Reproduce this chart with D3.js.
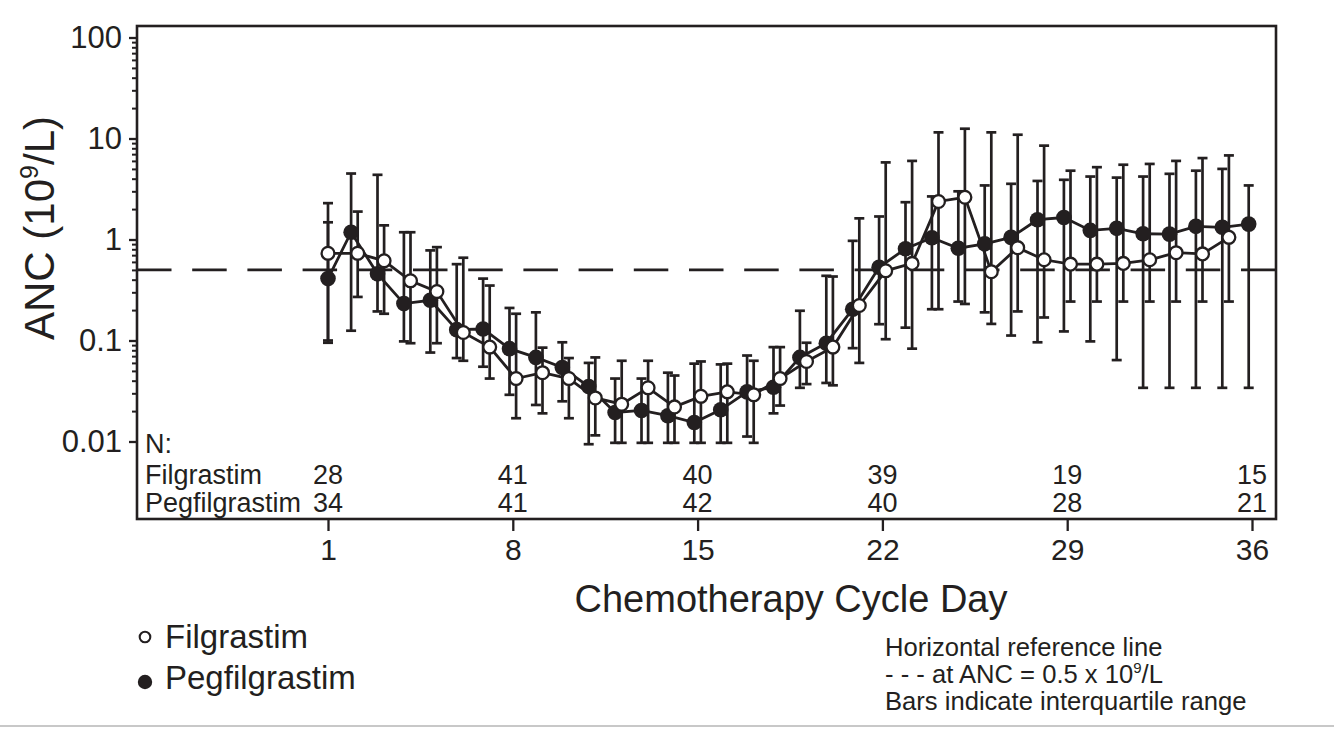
<!DOCTYPE html>
<html><head><meta charset="utf-8">
<script src="https://cdn.jsdelivr.net/npm/d3@7"></script>
<style>
body{margin:0;background:#fff}
svg{display:block}
text{font-family:"Liberation Sans",Arial,Helvetica,sans-serif;fill:#231f20}
</style>
</head><body>
<svg id="chart" width="1334" height="729"></svg>
<script>
// ---------- data ----------
const pegDays   = [1,2,3,4,5,6,7,8,9,10,11,12,13,14,15,16,17,18,19,20,21,22,23,24,25,26,27,28,29,30,31,32,33,34,35,36];
const pegMedian = [0.41,1.18,0.457,0.232,0.25,0.128,0.13,0.083,0.068,0.054,0.035,0.0194,0.0203,0.018,0.0154,0.0206,0.031,0.0345,0.068,0.094,0.204,0.53,0.81,1.04,0.82,0.906,1.05,1.57,1.65,1.23,1.29,1.14,1.13,1.35,1.32,1.42];
const pegQ1     = [0.095,0.125,0.194,0.098,0.076,0.067,0.055,0.029,0.023,0.025,0.0094,0.0097,0.0097,0.0097,0.0097,0.0097,0.0112,0.019,0.034,0.038,0.084,0.145,0.134,0.204,0.243,0.19,0.112,0.096,0.123,0.098,0.064,0.034,0.034,0.034,0.034,0.034];
const pegQ3     = [2.29,4.5,4.37,1.18,0.78,0.57,0.41,0.21,0.19,0.096,0.06,0.042,0.042,0.048,0.059,0.058,0.071,0.086,0.197,0.437,0.97,1.69,2.34,2.67,3.0,3.43,3.56,3.8,3.9,4.2,4.1,4.2,4.47,4.8,5.0,3.43];

const filDays   = [1,2,3,4,5,6,7,8,9,10,11,12,13,14,15,16,17,18,19,20,21,22,23,24,25,26,27,28,29,30,31,32,33,34,35];
const filMedian = [0.73,0.73,0.615,0.39,0.305,0.12,0.086,0.042,0.048,0.042,0.027,0.0234,0.034,0.022,0.028,0.031,0.029,0.042,0.062,0.086,0.222,0.49,0.58,2.38,2.62,0.48,0.83,0.63,0.57,0.57,0.58,0.63,0.74,0.72,1.05];
const filQ1     = [0.1,0.27,0.184,0.094,0.094,0.063,0.042,0.017,0.019,0.017,0.0115,0.0097,0.0097,0.0097,0.0097,0.0097,0.0097,0.0227,0.037,0.036,0.06,0.103,0.083,0.204,0.23,0.146,0.194,0.169,0.243,0.243,0.243,0.243,0.243,0.243,0.243];
const filQ3     = [1.48,1.89,1.38,1.18,0.84,0.66,0.35,0.184,0.085,0.067,0.068,0.063,0.063,0.045,0.062,0.059,0.063,0.086,0.095,0.43,1.62,5.8,6.0,11.5,12.5,11.5,10.9,8.5,4.8,5.2,5.5,5.6,6.0,6.4,6.8];

const xTicks = [1,8,15,22,29,36];
const yTicks = [0.01,0.1,1,10,100];
const yTickLabels = ["0.01","0.1","1","10","100"];
const nDays = [1,8,15,22,29,36];
const nFilgrastim = [28,41,40,39,19,15];
const nPegfilgrastim = [34,41,42,40,28,21];
const refValue = 0.5;

// ---------- layout / style ----------
const INK = "#231f20";
const frame = {left:137, right:1276, top:26, bottom:519};
const svg = d3.select("#chart");

const x = d3.scaleLinear().domain([1,36]).range([328,1252]);
const y = d3.scaleLog().domain([0.01,100]).range([441.5,37.5]);

const pegData = pegDays.map((d,i)=>({day:d,m:pegMedian[i],lo:pegQ1[i],hi:pegQ3[i]}));
const filData = filDays.map((d,i)=>({day:d,m:filMedian[i],lo:filQ1[i],hi:filQ3[i]}));
const dodgePeg = -3.3, dodgeFil = 3.3;
const px = (d,dodge)=> x(d.day) + (d.day===1 ? 0 : dodge);

// reference dashed line
svg.append("line")
  .attr("x1",frame.left).attr("x2",frame.right)
  .attr("y1",y(refValue)).attr("y2",y(refValue))
  .attr("stroke",INK).attr("stroke-width",2.8)
  .attr("stroke-dasharray","34.5,20.7");

// error bars
function bars(data,dodge){
  const g = svg.append("g").attr("stroke",INK).attr("stroke-width",2.7).attr("fill","none");
  data.forEach(d=>{
    const cx = px(d,dodge);
    g.append("line").attr("x1",cx).attr("x2",cx).attr("y1",y(d.lo)).attr("y2",y(d.hi));
    g.append("line").attr("x1",cx-5).attr("x2",cx+5).attr("y1",y(d.lo)).attr("y2",y(d.lo));
    g.append("line").attr("x1",cx-5).attr("x2",cx+5).attr("y1",y(d.hi)).attr("y2",y(d.hi));
  });
}
bars(pegData,dodgePeg);
bars(filData,dodgeFil);

// lines
const lineGen = dodge => d3.line().x(d=>px(d,dodge)).y(d=>y(d.m));
svg.append("path").datum(pegData).attr("d",lineGen(dodgePeg))
  .attr("fill","none").attr("stroke",INK).attr("stroke-width",2.8);
svg.append("path").datum(filData).attr("d",lineGen(dodgeFil))
  .attr("fill","none").attr("stroke",INK).attr("stroke-width",2.8);

// markers
svg.append("g").selectAll("circle").data(pegData).join("circle")
  .attr("cx",d=>px(d,dodgePeg)).attr("cy",d=>y(d.m)).attr("r",7.8)
  .attr("fill",INK);
svg.append("g").selectAll("circle").data(filData).join("circle")
  .attr("cx",d=>px(d,dodgeFil)).attr("cy",d=>y(d.m)).attr("r",6.4)
  .attr("fill","#fff").attr("stroke",INK).attr("stroke-width",2.3);

// frame
svg.append("rect")
  .attr("x",frame.left).attr("y",frame.top)
  .attr("width",frame.right-frame.left).attr("height",frame.bottom-frame.top)
  .attr("fill","none").attr("stroke",INK).attr("stroke-width",2.6);

// y axis (major)
const yAxis = svg.append("g").attr("transform",`translate(${frame.left},0)`)
  .call(d3.axisLeft(y).tickValues(yTicks).tickFormat((d,i)=>yTickLabels[i]).tickSize(8).tickSizeOuter(0).tickPadding(7));
yAxis.select(".domain").remove();
yAxis.selectAll("line").attr("stroke",INK).attr("stroke-width",2.3);
yAxis.selectAll("text").attr("font-size",31).attr("fill",INK)
  .style("font-family",'"Liberation Sans",Arial,sans-serif');

// y axis minor ticks
const minor = y.ticks().filter(v=>yTicks.indexOf(v)<0 && v>0.01 && v<100);
const yMinor = svg.append("g").attr("transform",`translate(${frame.left},0)`)
  .call(d3.axisLeft(y).tickValues(minor).tickFormat("").tickSize(5).tickSizeOuter(0));
yMinor.select(".domain").remove();
yMinor.selectAll("line").attr("stroke",INK).attr("stroke-width",2);

// x axis
const xAxis = svg.append("g").attr("transform",`translate(0,${frame.bottom})`)
  .call(d3.axisBottom(x).tickValues(xTicks).tickFormat(d3.format("d")).tickSize(12).tickSizeOuter(0).tickPadding(8));
xAxis.select(".domain").remove();
xAxis.selectAll("line").attr("stroke",INK).attr("stroke-width",2.3);
xAxis.selectAll("text").attr("font-size",30).attr("fill",INK)
  .style("font-family",'"Liberation Sans",Arial,sans-serif');

// N table
const tbl = svg.append("g").attr("font-size",27);
tbl.append("text").attr("x",145).attr("y",453).text("N:");
tbl.append("text").attr("x",145).attr("y",484).text("Filgrastim");
tbl.append("text").attr("x",145).attr("y",512).text("Pegfilgrastim");
tbl.selectAll("text.nf").data(nFilgrastim).join("text").attr("class","nf")
  .attr("x",(d,i)=>x(nDays[i])).attr("y",484).attr("text-anchor","middle").text(d=>d);
tbl.selectAll("text.np").data(nPegfilgrastim).join("text").attr("class","np")
  .attr("x",(d,i)=>x(nDays[i])).attr("y",512).attr("text-anchor","middle").text(d=>d);

// axis titles
svg.append("text").attr("x",791).attr("y",612).attr("text-anchor","middle")
  .attr("font-size",38).text("Chemotherapy Cycle Day");
const yt = svg.append("text").attr("transform","translate(54,228) rotate(-90)")
  .attr("text-anchor","middle").attr("font-size",42);
yt.append("tspan").text("ANC (10");
yt.append("tspan").attr("font-size",25).attr("dy",-16).text("9");
yt.append("tspan").attr("dy",16).text("/L)");

// legend
svg.append("circle").attr("cx",145).attr("cy",637).attr("r",5.3)
  .attr("fill","#fff").attr("stroke",INK).attr("stroke-width",2.1);
svg.append("text").attr("x",165).attr("y",648).attr("font-size",33).text("Filgrastim");
svg.append("circle").attr("cx",145).attr("cy",682).attr("r",7.2)
  .attr("fill",INK);
svg.append("text").attr("x",165).attr("y",689).attr("font-size",33).text("Pegfilgrastim");

// notes
const notes = svg.append("g").attr("font-size",25.6);
notes.append("text").attr("x",885).attr("y",656).text("Horizontal reference line");
const n2 = notes.append("text").attr("x",885).attr("y",683);
n2.append("tspan").text("- - - at ANC = 0.5 x 10");
n2.append("tspan").attr("font-size",15).attr("dy",-10).text("9");
n2.append("tspan").attr("dy",10).text("/L");
notes.append("text").attr("x",885).attr("y",710).text("Bars indicate interquartile range");

// bottom separator
svg.append("line").attr("x1",0).attr("x2",1334).attr("y1",726).attr("y2",726)
  .attr("stroke","#c8c8c8").attr("stroke-width",2);
</script>
</body></html>
